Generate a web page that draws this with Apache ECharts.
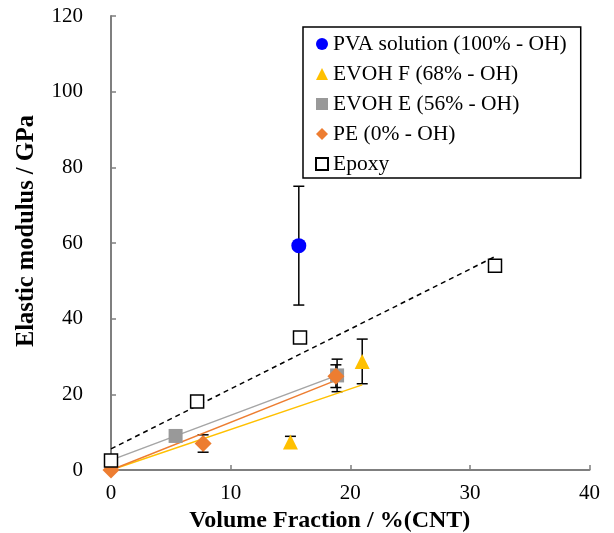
<!DOCTYPE html>
<html><head><meta charset="utf-8">
<script src="https://cdn.jsdelivr.net/npm/echarts@6/dist/echarts.min.js"></script>
<style>html,body{margin:0;padding:0;background:#fff}#c{width:614px;height:533px}</style>
</head><body><div id="c"></div>
<script>
// ---- data ----
const seriesNames = ['PVA solution (100% - OH)', 'EVOH F (68% - OH)', 'EVOH E (56% - OH)', 'PE (0% - OH)', 'Epoxy'];
const xPVA = [15.7];            const yPVA = [59.3];            const ePVA = [15.7];
const xEVOHF = [15.0, 21.0];    const yEVOHF = [7.4, 28.7];     const eEVOHF = [1.5, 5.9];
const xEVOHE = [5.4, 18.9];     const yEVOHE = [9.0, 25.0];     const eEVOHE = [0, 4.3];
const xPE = [0, 7.7, 18.8];     const yPE = [0, 7.0, 24.8];     const ePE = [0, 2.3, 3.0];
const xEpoxy = [0, 7.2, 15.8, 32.1]; const yEpoxy = [2.5, 18.1, 35.0, 54.0];
const xTicks = [0, 10, 20, 30, 40];
const yTicks = [0, 20, 40, 60, 80, 100, 120];

const FONT = "'Liberation Serif', 'Times New Roman', serif";
const colors = ['#0000FF', '#FFC000', '#A5A5A5', '#ED7D31', '#000000'];

function pts(xs, ys) { return xs.map((x, i) => [x, ys[i]]); }
function fit(xs, ys, zeroIntercept) {
  const n = xs.length;
  let slope, b;
  if (zeroIntercept) {
    let sxy = 0, sxx = 0;
    for (let i = 0; i < n; i++) { sxy += xs[i] * ys[i]; sxx += xs[i] * xs[i]; }
    slope = sxy / sxx; b = 0;
  } else {
    const mx = xs.reduce((a, v) => a + v, 0) / n, my = ys.reduce((a, v) => a + v, 0) / n;
    let sxy = 0, sxx = 0;
    for (let i = 0; i < n; i++) { sxy += (xs[i] - mx) * (ys[i] - my); sxx += (xs[i] - mx) ** 2; }
    slope = sxy / sxx; b = my - slope * mx;
  }
  const x1 = Math.max(...xs);
  return [[0, b], [x1, b + slope * x1]];
}
function errSeries(xs, ys, es) {
  const data = xs.map((x, i) => [x, ys[i], es[i]]).filter(d => d[2] > 0);
  return {
    type: 'custom', silent: true, z: 1, data: data,
    encode: { x: 0, y: 1 },
    renderItem: function (params, api) {
      const x = api.value(0), y = api.value(1), e = api.value(2);
      const t = api.coord([x, y + e]), bt = api.coord([x, y - e]);
      const w = 5.5, st = { stroke: '#000', lineWidth: 1.5 };
      return { type: 'group', children: [
        { type: 'line', shape: { x1: t[0], y1: t[1], x2: bt[0], y2: bt[1] }, style: st },
        { type: 'line', shape: { x1: t[0] - w, y1: t[1], x2: t[0] + w, y2: t[1] }, style: st },
        { type: 'line', shape: { x1: bt[0] - w, y1: bt[1], x2: bt[0] + w, y2: bt[1] }, style: st }
      ] };
    }
  };
}
function trend(xs, ys, zero, color, dashed) {
  return { type: 'line', silent: true, z: 3, symbol: 'none', data: fit(xs, ys, zero),
    lineStyle: { color: color, width: 1.5, type: dashed ? [5, 4] : 'solid' } };
}
function scatter(i, xs, ys, symbol, size, style) {
  return { name: seriesNames[i], type: 'scatter', z: 4, symbol: symbol, symbolSize: size,
    data: pts(xs, ys), itemStyle: Object.assign({ opacity: 1 }, style), emphasis: { disabled: true } };
}

const chart = echarts.init(document.getElementById('c'), null, { renderer: 'canvas' });
chart.setOption({
  animation: false,
  backgroundColor: '#fff',
  grid: { left: 111, right: 24.5, top: 16, bottom: 63, outerBoundsMode: 'none' },
  legend: {
    data: seriesNames.map((n, i) => ({ name: n, icon: ['circle', 'triangle', 'rect', 'diamond', 'rect'][i] })),
    orient: 'vertical', left: 303, top: 27,
    padding: [6, 14, 3, 12], itemGap: 8, itemWidth: 12, itemHeight: 12,
    borderColor: '#000', borderWidth: 1.5, backgroundColor: '#fff',
    textStyle: { fontFamily: FONT, fontSize: 21.5, color: '#000', lineHeight: 21 },
    selectedMode: false
  },
  xAxis: {
    type: 'value', min: 0, max: 40, interval: 10,
    name: 'Volume Fraction / %(CNT)', nameLocation: 'middle', nameGap: 29,
    nameTextStyle: { fontFamily: FONT, fontSize: 24, fontWeight: 'bold', color: '#000', padding: [0, 41, 0, 0] },
    axisLine: { show: true, lineStyle: { color: '#7f7f7f', width: 2 } },
    axisTick: { show: true, inside: true, length: 5, lineStyle: { color: '#7f7f7f', width: 1.5 } },
    axisLabel: { fontFamily: FONT, fontSize: 21, color: '#000', margin: 13, formatter: v => xTicks.includes(v) ? String(v) : '' },
    splitLine: { show: false }
  },
  yAxis: {
    type: 'value', min: 0, max: 120, interval: 20,
    name: 'Elastic modulus / GPa', nameLocation: 'middle', nameGap: 72,
    nameTextStyle: { fontFamily: FONT, fontSize: 24.5, fontWeight: 'bold', color: '#000', padding: [0, 0, 0, 24] },
    axisLine: { show: true, lineStyle: { color: '#7f7f7f', width: 2 } },
    axisTick: { show: true, inside: true, length: 5, lineStyle: { color: '#7f7f7f', width: 1.5 } },
    axisLabel: { fontFamily: FONT, fontSize: 21, color: '#000', margin: 28, formatter: v => yTicks.includes(v) ? String(v) : '' },
    splitLine: { show: false }
  },
  series: [
    errSeries(xPVA, yPVA, ePVA),
    errSeries(xEVOHF, yEVOHF, eEVOHF),
    errSeries(xEVOHE, yEVOHE, eEVOHE),
    errSeries(xPE, yPE, ePE),
    trend(xEVOHF, yEVOHF, true, colors[1], false),
    trend(xEVOHE, yEVOHE, false, colors[2], false),
    trend(xPE, yPE, true, colors[3], false),
    trend(xEpoxy, yEpoxy, false, '#000', true),
    scatter(0, xPVA, yPVA, 'circle', 15, { color: colors[0] }),
    scatter(1, xEVOHF, yEVOHF, 'triangle', 15, { color: colors[1] }),
    scatter(2, xEVOHE, yEVOHE, 'rect', 14, { color: '#999999' }),
    scatter(3, xPE, yPE, 'diamond', 17, { color: colors[3] }),
    scatter(4, xEpoxy, yEpoxy, 'rect', 13, { color: '#fff', borderColor: '#000', borderWidth: 1.5 })
  ]
});
</script></body></html>
